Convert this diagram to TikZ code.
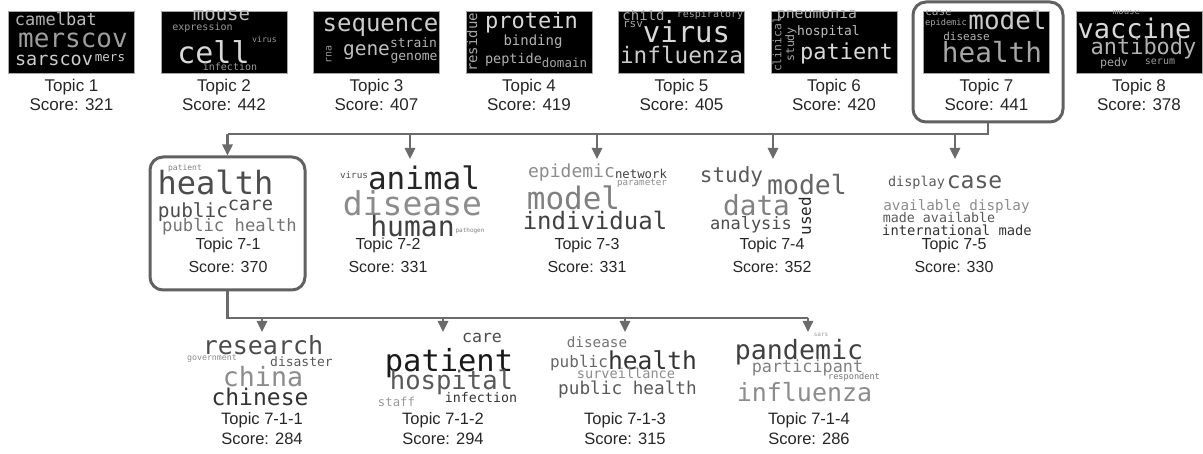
\documentclass[tikz,border=0pt]{standalone}
\usepackage{fontspec}
\setmainfont{Liberation Sans}
\newfontfamily\cloudfont{DejaVu Sans Mono}
\usetikzlibrary{calc, arrows.meta}

\begin{document}
\begin{tikzpicture}[x=1pt, y=-1pt,
		word/.style={inner sep=0pt, anchor=center},
		cloudbg/.style={fill=black, draw=black!35, line width=0.6pt, minimum width=126pt, minimum height=62pt, inner sep=0pt},
		lbl/.style={align=center, inner sep=0pt, text=black!85},
		selbox/.style={draw=black!62, line width=3pt, rounded corners=13pt, inner sep=0pt},
		conn/.style={draw=black!58, line width=2.5pt},
		tip/.style={-{Triangle[width=10pt,length=11pt]}, draw=black!58, fill=black!58, line width=2.5pt}]

		\useasboundingbox (0,0) rectangle (1203,454);

		% x/y/size/shade/angle/word
		\def\cloud#1#2{\foreach \x/\y/\s/\g/\a/\w [count=\i] in {#2} {\node[word, text=\g, rotate=\a, font={\cloudfont\fontsize{\s}{\s}\selectfont}] (#1-\i) at (\x,\y) {\w};}}

		\coordinate (lvl1) at (0,134);
		\coordinate (lvl2) at (0,318);

		% first level
		\foreach \i in {1,...,8}
			\node[cloudbg] (bg\i) at ({71.5+152.5*(\i-1)},42) {};

		\foreach \s [count=\i] in {321,442,407,419,405,420,441,378}
			\node[lbl, font=\fontsize{17}{19}\selectfont] (t\i) at ({71.5+152.5*(\i-1)},95) {Topic \i\\Score: \s};

		\begin{scope}
			\clip (bg1.south west) rectangle (bg1.north east);
			\cloud{w1}{40.5/19/17/white!70!black/0/camel, 81.5/19/17/white!75!black/0/bat, 73/40/26/white!62!black/0/merscov, 54/60/18.5/white!80!black/0/sarscov, 110/58/12.5/white!80!black/0/mers}
		\end{scope}

		\begin{scope}
			\clip (bg2.south west) rectangle (bg2.north east);
			\cloud{w2}{221.5/15/19/white!75!black/0/mouse, 202.5/28/10/white!60!black/0/expression, 213.5/52/30/white!85!black/0/cell, 264.5/39/8.3/white!60!black/0/virus, 230/67/10/white!60!black/0/infection}
		\end{scope}

		\begin{scope}
			\clip (bg3.south west) rectangle (bg3.north east);
			\cloud{w3}{380.5/27/24/white!80!black/0/sequence, 329/54.5/10/white!60!black/90/rna, 366.5/52/19.5/white!75!black/0/gene, 413.5/43/13/white!70!black/0/strain, 414/58/13/white!70!black/0/genome}
		\end{scope}

		\begin{scope}
			\clip (bg4.south west) rectangle (bg4.north east);
			\cloud{w4}{531.5/22/22/white!85!black/0/protein, 472/42.5/14/white!65!black/90/residue, 533/42/14/white!70!black/0/binding, 513.5/60/13.5/white!70!black/0/peptide, 564.5/63/12.5/white!65!black/0/domain}
		\end{scope}

		\begin{scope}
			\clip (bg5.south west) rectangle (bg5.north east);
			\cloud{w5}{643.5/15/14/white!65!black/0/child, 710/15/10/white!65!black/0/respiratory, 633/25/11/white!65!black/0/rsv, 686.5/32/29/white!85!black/0/virus, 681.5/55/22.7/white!80!black/0/influenza}
		\end{scope}

		\begin{scope}
			\clip (bg6.south west) rectangle (bg6.north east);
			\cloud{w6}{817/14/14.8/white!70!black/0/pneumonia, 777/44.5/11.4/white!60!black/90/clinical, 791/44.5/11.6/white!65!black/90/study, 828.5/32/13/white!75!black/0/hospital, 846.5/53/22/white!85!black/0/patient}
		\end{scope}

		\begin{scope}
			\clip (bg7.south west) rectangle (bg7.north east);
			\cloud{w7}{938.5/13/11/white!65!black/0/case, 946/23/8.7/white!65!black/0/epidemic, 1007.5/20/26/white!80!black/0/model, 966.5/36/11/white!70!black/0/disease, 992/52/27.7/white!65!black/0/health}
		\end{scope}

		\begin{scope}
			\clip (bg8.south west) rectangle (bg8.north east);
			\cloud{w8}{1126.5/12/9/white!60!black/0/mouse, 1134.5/28/27/white!85!black/0/vaccine, 1143.5/48/22/white!70!black/0/antibody, 1114/63/11.6/white!65!black/0/pedv, 1160/62/10/white!60!black/0/serum}
		\end{scope}

		\node[selbox, minimum width=150pt, minimum height=120pt] (sel7) at (988,62) {};

		% second level
		\cloud{w71}{185/168/8/black!50/0/patient, 215.5/182/32/black!70/0/health, 193/212/19.4/black!70/0/public, 250.5/205/18.7/black!70/0/care, 229.5/227/17.2/black!55/0/public health}
		\cloud{w72}{354/175/9.3/black!70/0/virus, 424/178/31/black!85/0/animal, 412.5/203/33/black!45/0/disease, 412.5/226/28/black!75/0/human, 470/231/6/black!50/0/pathogen}
		\cloud{w73}{571.5/173/18/black!45/0/epidemic, 641/174/12.3/black!75/0/network, 642/183/9.2/black!45/0/parameter, 573.5/198/31/black!50/0/model, 595/220/24/black!75/0/individual}
		\cloud{w74}{731.5/177/21/black!65/0/study, 807/185/26.5/black!60/0/model, 756.5/205/27.7/black!50/0/data, 751/225/17/black!70/0/analysis, 805/216/16/black!85/90/used}
		\cloud{w75}{916.5/183/13.5/black!65/0/display, 974.5/182/23/black!65/0/case, 956.5/207/14.3/black!45/0/available display, 939/218/13.3/black!65/0/made available, 957/230/13.8/black!80/0/international made}

		\foreach \n/\x/\s in {1/228/370, 2/388/331, 3/587/331, 4/772/352, 5/954/330}
			\node[lbl, font=\fontsize{16}{23}\selectfont] (t7\n) at (\x,255.5) {Topic 7-\n\\Score: \s};

		\node[selbox, minimum width=155pt, minimum height=133pt] (sel71) at (227.5,223.5) {};

		\coordinate (in72) at (410,159);
		\coordinate (in73) at (597,159);
		\coordinate (in74) at (773,159);
		\coordinate (in75) at (955,159);

		\draw[conn] (sel7.south) -- (sel7.south |- lvl1) -- (sel71.north |- lvl1);
		\foreach \n in {sel71.north, in72, in73, in74, in75}
			\draw[tip] (\n |- lvl1) -- (\n);

		% third level
		\cloud{w711}{263/345/25/black!70/0/research, 212/358/8.3/black!45/0/government, 301.5/362/13/black!65/0/disaster, 263/377/26.6/black!45/0/china, 260/397/23/black!80/0/chinese}
		\cloud{w712}{482/338/16.6/black!70/0/care, 449/363/30.4/black!90/0/patient, 451.5/382/25.6/black!65/0/hospital, 396.5/402/12.3/black!40/0/staff, 481/398/13.3/black!80/0/infection}
		\cloud{w713}{597/342/14.3/black!55/0/disease, 579/363/16/black!60/0/public, 652.5/360/24.6/black!80/0/health, 626/373/13.6/black!45/0/surveillance, 627.5/390/17.7/black!65/0/public health}
		\cloud{w714}{821/335/6/black!40/0/sars, 799/352/26.6/black!75/0/pandemic, 807.5/368/16.8/black!50/0/participant, 854/377/8.6/black!55/0/respondent, 804.5/392/25/black!45/0/influenza}

		\foreach \n/\x/\s in {1/262/284, 2/443/294, 3/625/315, 4/809/286}
			\node[lbl, font=\fontsize{16.5}{20}\selectfont] (t71\n) at (\x,429) {Topic 7-1-\n\\Score: \s};

		\coordinate (in711) at (262,332);
		\coordinate (in712) at (443,332);
		\coordinate (in713) at (625,332);
		\coordinate (in714) at (808,332);

		\draw[conn] (sel71.south) -- (sel71.south |- lvl2) -- (in714 |- lvl2);
		\foreach \n in {in711, in712, in713, in714}
			\draw[tip] (\n |- lvl2) -- (\n);
	\end{tikzpicture}
\end{document}
